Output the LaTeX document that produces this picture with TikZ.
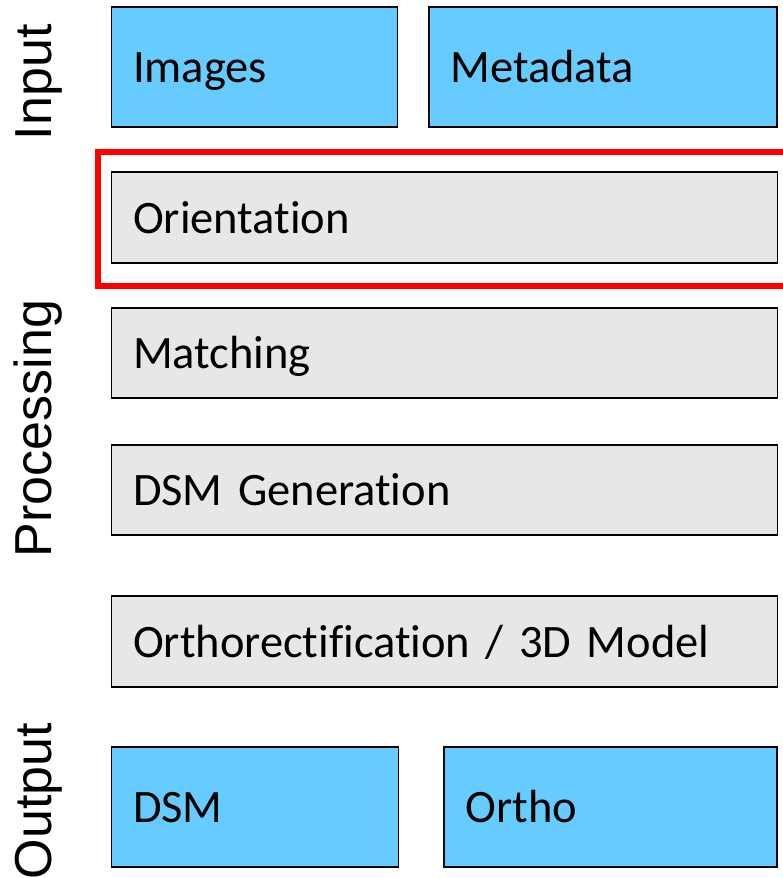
\documentclass[tikz,border=0pt]{standalone}
\usepackage{fontspec}
\setmainfont{Carlito}[Ligatures={NoCommon}]
\newfontfamily\labelfont{Liberation Sans}
\definecolor{boxblue}{HTML}{66CCFF}
\definecolor{boxgray}{HTML}{E7E7E7}
\definecolor{framered}{HTML}{FF0000}
\begin{document}
\begin{tikzpicture}[x=1pt,y=-1pt,
  stagebox/.style={draw=black, line width=1.8pt, anchor=north west,
    outer sep=0pt, inner xsep=21.5pt, inner ysep=0pt, align=left,
    text height=31pt, text depth=0pt,
    font=\fontsize{46.5}{50}\selectfont},
  iobox/.style={stagebox, fill=boxblue},
  procbox/.style={stagebox, fill=boxgray},
  sidelabel/.style={rotate=90, anchor=base west, inner sep=0pt, outer sep=0pt,
    font=\labelfont\fontsize{52}{60}\selectfont}]
\useasboundingbox (0,0) rectangle (783,878);
\clip (0,0) rectangle (783,878);
\fill[white] (0,0) rectangle (783,878);

% focus frame
\node[draw=framered, line width=6pt, anchor=north west, inner sep=0pt, outer sep=0pt,
  minimum width=720pt, minimum height=134pt] (focus) at (97.5,152) {};

% input
\node[iobox, text width=243pt, minimum height=120pt] (images) at (111.5,7) {Images};
\node[iobox, text width=305pt, minimum height=120pt] (metadata) at (429,7) {Metadata};

% processing
\node[procbox, text width=623pt, minimum height=91pt] (orientation) at (111.5,172) {Orientation};
\node[procbox, text width=623pt, minimum height=90pt] (matching) at (111.5,308) {Matching};
\node[procbox, text width=623pt, minimum height=90pt] (dsmgen) at (111.5,445) {DSM Generation};
\node[procbox, text width=623pt, minimum height=91pt] (orthorect) at (111.5,596) {Orthorectification / 3D Model};

% output
\node[iobox, text width=244pt, minimum height=120pt] (dsm) at (111.5,747) {DSM};
\node[iobox, text width=290pt, minimum height=120pt] (ortho) at (444,747) {Ortho};

% side labels
\node[sidelabel] (linput) at (51,140) {Input};
\node[sidelabel] (lproc) at (51,557) {Processing};
\node[sidelabel] (loutput) at (51,879) {Output};
\end{tikzpicture}
\end{document}
